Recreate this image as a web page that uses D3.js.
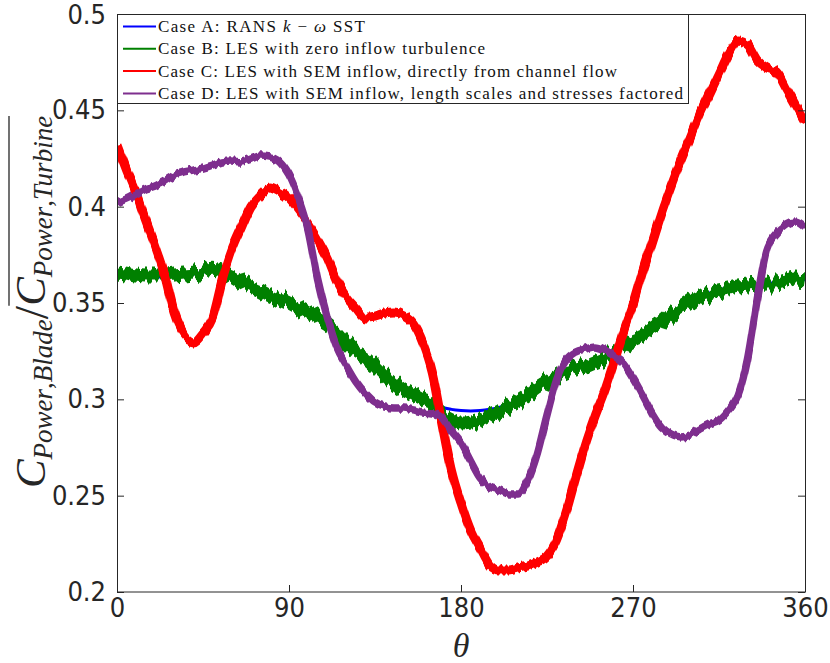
<!DOCTYPE html>
<html>
<head>
<meta charset="utf-8">
<script src="https://cdn.jsdelivr.net/npm/d3@7"></script>
<style>
  body { margin: 0; background: #fff; }
  svg { display: block; }
</style>
</head>
<body>
<svg id="chart" width="830" height="663"></svg>
<script>
// Blade azimuth angle (degrees)
const theta = [0,5,10,15,20,25,30,35,40,45,50,55,60,65,70,75,80,85,90,95,100,105,110,115,120,125,130,135,140,145,150,155,160,165,170,175,180,185,190,195,200,205,210,215,220,225,230,235,240,245,250,255,260,265,270,275,280,285,290,295,300,305,310,315,320,325,330,335,340,345,350,355,360];

// Case A: RANS k-omega SST
const caseA = [0.3656,0.3650,0.3640,0.3635,0.3635,0.3635,0.3640,0.3645,0.3650,0.3660,0.3670,0.3660,0.3645,0.3614,0.3588,0.3568,0.3542,0.3521,0.3500,0.3474,0.3448,0.3422,0.3391,0.3350,0.3292,0.3246,0.3215,0.3173,0.3126,0.3085,0.3048,0.3023,0.3000,0.2985,0.2960,0.2948,0.2942,0.2940,0.2942,0.2948,0.2958,0.2975,0.2995,0.3023,0.3059,0.3090,0.3121,0.3147,0.3163,0.3173,0.3194,0.3215,0.3246,0.3282,0.3313,0.3334,0.3365,0.3396,0.3438,0.3469,0.3500,0.3536,0.3552,0.3568,0.3578,0.3588,0.3593,0.3599,0.3604,0.3604,0.3614,0.3625,0.3620];

// Case B: LES with zero inflow turbulence
const caseB = [0.3656,0.3650,0.3640,0.3635,0.3635,0.3635,0.3640,0.3645,0.3650,0.3660,0.3670,0.3660,0.3645,0.3614,0.3588,0.3568,0.3542,0.3521,0.3500,0.3474,0.3448,0.3422,0.3391,0.3350,0.3292,0.3246,0.3215,0.3173,0.3126,0.3085,0.3048,0.3023,0.2997,0.2976,0.2924,0.2893,0.2877,0.2882,0.2893,0.2914,0.2934,0.2965,0.2991,0.3023,0.3059,0.3090,0.3121,0.3147,0.3163,0.3173,0.3194,0.3215,0.3246,0.3282,0.3313,0.3334,0.3365,0.3396,0.3438,0.3469,0.3500,0.3536,0.3552,0.3568,0.3578,0.3588,0.3593,0.3599,0.3604,0.3604,0.3614,0.3625,0.3620];

// Case C: LES with SEM inflow, directly from channel flow
const caseC = [0.4320,0.4190,0.4070,0.3930,0.3796,0.3645,0.3450,0.3340,0.3303,0.3350,0.3427,0.3620,0.3775,0.3890,0.4000,0.4060,0.4097,0.4076,0.4040,0.3980,0.3910,0.3827,0.3734,0.3614,0.3530,0.3474,0.3422,0.3427,0.3443,0.3448,0.3433,0.3391,0.3292,0.3137,0.2877,0.2630,0.2462,0.2322,0.2228,0.2140,0.2114,0.2114,0.2125,0.2135,0.2156,0.2187,0.2270,0.2415,0.2592,0.2763,0.2908,0.3038,0.3189,0.3350,0.3490,0.3660,0.3817,0.3972,0.4112,0.4242,0.4362,0.4481,0.4585,0.4689,0.4792,0.4860,0.4840,0.4760,0.4720,0.4700,0.4616,0.4528,0.4440];

// Case D: LES with SEM inflow, length scales and stresses factored
const caseD = [0.4019,0.4040,0.4066,0.4092,0.4107,0.4133,0.4164,0.4180,0.4190,0.4200,0.4216,0.4232,0.4237,0.4232,0.4247,0.4263,0.4258,0.4232,0.4164,0.4045,0.3879,0.3620,0.3422,0.3266,0.3173,0.3090,0.3028,0.2981,0.2960,0.2955,0.2955,0.2945,0.2934,0.2929,0.2903,0.2836,0.2773,0.2680,0.2592,0.2545,0.2530,0.2509,0.2509,0.2581,0.2722,0.2919,0.3100,0.3204,0.3246,0.3261,0.3272,0.3256,0.3225,0.3189,0.3111,0.3023,0.2929,0.2856,0.2820,0.2805,0.2815,0.2846,0.2872,0.2893,0.2945,0.3023,0.3215,0.3516,0.3775,0.3858,0.3905,0.3920,0.3890];

const xTicks = [0, 90, 180, 270, 360];
const yTicks = [0.2, 0.25, 0.3, 0.35, 0.4, 0.45, 0.5];
const yTickLabels = ["0.2", "0.25", "0.3", "0.35", "0.4", "0.45", "0.5"];

// band width and fluctuation strength of each simulated signal
const series = [
  { name: "A", values: caseA, color: "#0000ff", width: 3, rough: 0 },
  { name: "B", values: caseB, color: "#008000", width: 13, rough: 16 },
  { name: "C", values: caseC, color: "#ff0000", width: 9, rough: 9 },
  { name: "D", values: caseD, color: "#7e2f8e", width: 7.5, rough: 7 }
];

const svg = d3.select("#chart");
const plot = { left: 117, right: 805, top: 14, bottom: 592 };
const axisColor = "#262626";

const x = d3.scaleLinear().domain([0, 360]).range([plot.left, plot.right]);
const y = d3.scaleLinear().domain([0.2, 0.5]).range([plot.bottom, plot.top]);

const defs = svg.append("defs");
defs.append("clipPath").attr("id", "plotClip")
  .append("rect")
  .attr("x", plot.left).attr("y", plot.top)
  .attr("width", plot.right - plot.left).attr("height", plot.bottom - plot.top);

// ragged (vertically jittered) edge for the fluctuating LES traces
series.forEach((s, i) => {
  if (!s.rough) return;
  const f = defs.append("filter").attr("id", "rough" + s.name)
    .attr("x", "-2%").attr("y", "-8%").attr("width", "104%").attr("height", "116%");
  f.append("feTurbulence").attr("type", "fractalNoise")
    .attr("baseFrequency", "0.24 0.002").attr("numOctaves", 2)
    .attr("seed", 3 + i * 7).attr("result", "noise");
  f.append("feColorMatrix").attr("in", "noise").attr("type", "matrix")
    .attr("values", "0 0 0 0 0.5  0 1 0 0 0  0 0 1 0 0  0 0 0 0 1")
    .attr("result", "vnoise");
  f.append("feDisplacementMap").attr("in", "SourceGraphic").attr("in2", "vnoise")
    .attr("scale", s.rough).attr("xChannelSelector", "R").attr("yChannelSelector", "G");
});

// curves
const line = d3.line()
  .x((d, i) => x(theta[i]))
  .y(d => y(d))
  .curve(d3.curveMonotoneX);

const curves = svg.append("g").attr("clip-path", "url(#plotClip)");
series.forEach(s => {
  const p = curves.append("path")
    .attr("d", line(s.values))
    .attr("fill", "none")
    .attr("stroke", s.color)
    .attr("stroke-width", s.width)
    .attr("stroke-linejoin", "round");
  if (s.rough) p.attr("filter", `url(#rough${s.name})`);
});

// axes with inward ticks
const tickFont = "'DejaVu Sans', sans-serif";
function styleAxis(g, showLabels) {
  g.select(".domain").remove();
  g.selectAll(".tick line").attr("stroke", axisColor);
  g.selectAll(".tick text")
    .attr("fill", axisColor)
    .style("font-family", tickFont)
    .style("font-stretch", "condensed")
    .style("font-size", "27px");
  if (!showLabels) g.selectAll(".tick text").remove();
}

svg.append("g").attr("transform", `translate(0,${plot.bottom})`)
  .call(d3.axisBottom(x).tickValues(xTicks).tickSize(-7).tickPadding(6).tickFormat(d3.format("d")))
  .call(g => styleAxis(g, true));
svg.append("g").attr("transform", `translate(0,${plot.top})`)
  .call(d3.axisTop(x).tickValues(xTicks).tickSize(-7))
  .call(g => styleAxis(g, false));
svg.append("g").attr("transform", `translate(${plot.left},0)`)
  .call(d3.axisLeft(y).tickValues(yTicks).tickSize(-7).tickPadding(11).tickFormat((d, i) => yTickLabels[i]))
  .call(g => styleAxis(g, true));
svg.append("g").attr("transform", `translate(${plot.right},0)`)
  .call(d3.axisRight(y).tickValues(yTicks).tickSize(-7))
  .call(g => styleAxis(g, false));
// keep the top label inside the canvas
svg.selectAll(".tick text").filter(d => d === 0.5).attr("dy", "0.36em");

// axes box
svg.append("rect")
  .attr("x", plot.left + 0.5).attr("y", plot.top + 0.5)
  .attr("width", plot.right - plot.left).attr("height", plot.bottom - plot.top - 0.5)
  .attr("fill", "none").attr("stroke", axisColor).attr("stroke-width", 1);

// x label
svg.append("text")
  .attr("x", (plot.left + plot.right) / 2)
  .attr("y", 657)
  .attr("text-anchor", "middle")
  .style("font-family", "'Liberation Serif', serif")
  .style("font-style", "italic")
  .style("font-size", "34px")
  .attr("fill", axisColor)
  .text("θ");

// y label: C_{Power,Blade} / overline{C_{Power,Turbine}}
const yl = svg.append("g").attr("transform", "rotate(-90)")
  .style("font-family", "'Liberation Serif', serif")
  .attr("fill", axisColor);
const base = 45;
function mathPart(parent, sub) {
  const t = parent.append("text").attr("x", 0).attr("y", base);
  t.append("tspan").style("font-size", "43px").style("font-style", "italic").text("C");
  t.append("tspan").style("font-size", "27px").style("font-style", "italic").attr("dy", 7).text("Power");
  t.append("tspan").style("font-size", "27px").text(",");
  t.append("tspan").style("font-size", "27px").style("font-style", "italic").text(sub);
  return t;
}
const p1 = mathPart(yl, "Blade");
p1.append("tspan").style("font-size", "48px").attr("dy", -4).text("/");
const p2 = mathPart(yl, "Turbine");
const len1 = p1.node().getComputedTextLength();
const len2 = p2.node().getComputedTextLength();
const total = len1 + len2;
const start = -302 - total / 2;
p1.attr("x", start);
p2.attr("x", start + len1);
yl.append("line")
  .attr("x1", start + len1).attr("x2", start + len1 + len2)
  .attr("y1", base - 36).attr("y2", base - 36)
  .attr("stroke", axisColor).attr("stroke-width", 1.3);

// legend
const legendFont = "'Liberation Serif', serif";
const legendRows = [
  { color: "#0000ff", end: 365, parts: [["Case A: RANS ", false], ["k", true], [" − ", false], ["ω", true], [" SST", false]] },
  { color: "#008000", end: 485, parts: [["Case B: LES with zero inflow turbulence", false]] },
  { color: "#ff0000", end: 617, parts: [["Case C: LES with SEM inflow, directly from channel flow", false]] },
  { color: "#7e2f8e", end: 683, parts: [["Case D: LES with SEM inflow, length scales and stresses factored", false]] }
];
const legend = svg.append("g");
legend.append("rect")
  .attr("x", plot.left + 0.5).attr("y", plot.top + 0.5)
  .attr("width", 571).attr("height", 89)
  .attr("fill", "#fff").attr("stroke", axisColor).attr("stroke-width", 1);
legendRows.forEach((r, i) => {
  const cy = 26.5 + i * 22.3;
  legend.append("line")
    .attr("x1", 123).attr("x2", 156).attr("y1", cy).attr("y2", cy)
    .attr("stroke", r.color).attr("stroke-width", 2);
  const t = legend.append("text")
    .attr("x", 158).attr("y", cy + 5.5)
    .style("font-family", legendFont)
    .style("font-size", "17px")
    .attr("fill", "#111")
    .attr("textLength", r.end - 158)
    .attr("lengthAdjust", "spacing");
  r.parts.forEach(p => {
    t.append("tspan").style("font-style", p[1] ? "italic" : "normal").text(p[0]);
  });
});
</script>
</body>
</html>
